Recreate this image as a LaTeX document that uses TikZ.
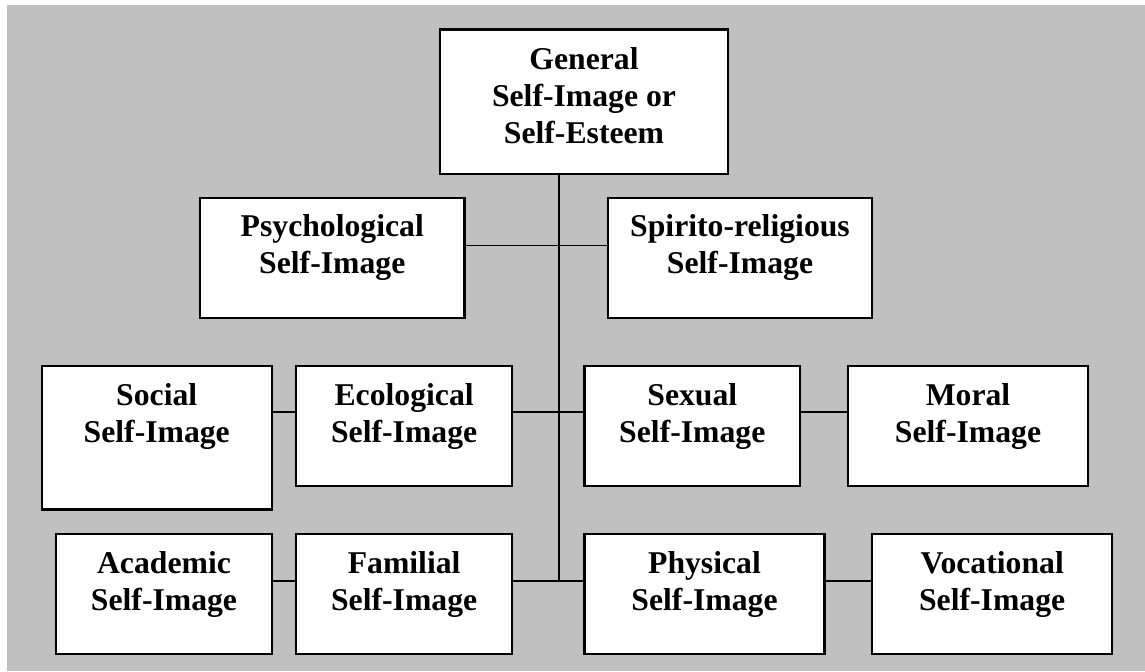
\documentclass[tikz,border=0pt]{standalone}
\usepackage{fontspec}
\setmainfont{Liberation Serif}
\definecolor{bggray}{HTML}{C0C0C0}
\newcommand\boxlines[1]{\begin{tabular}[b]{@{}c@{}}#1\end{tabular}}
\tikzset{
  box/.style={draw=black, line width=1.15pt, fill=white, inner sep=0pt,
    font=\bfseries\fontsize{15.85}{18.5}\selectfont, anchor=north west,
    text height=38pt, text depth=22pt},
  link/.style={draw=black, line width=0.85pt},
}
\begin{document}
\begin{tikzpicture}[x=0.5pt, y=-0.5pt]
\useasboundingbox (0,0) rectangle (1145,672);
\fill[white] (0,0) rectangle (1145,672);
\fill[bggray] (6.7,5) rectangle (1145,671.5);

\node[box, minimum width=143.85pt, text height=57.2pt, text depth=15pt] (gen) at (439,28.3)
  {\boxlines{General\\Self-Image or\\Self-Esteem}};
\node[box, minimum width=132.15pt] (psy) at (199,196.7) {\boxlines{Psychological\\Self-Image}};
\node[box, minimum width=132.15pt] (spi) at (606.7,196.7) {\boxlines{Spirito-religious\\Self-Image}};

\node[box, minimum width=115.1pt, text depth=33.65pt] (soc) at (40.5,365) {\boxlines{Social\\Self-Image}};
\node[box, minimum width=108pt] (eco) at (295,365) {\boxlines{Ecological\\Self-Image}};
\node[box, minimum width=107.85pt] (sex) at (583.3,365) {\boxlines{Sexual\\Self-Image}};
\node[box, minimum width=120.15pt] (mor) at (846.7,365) {\boxlines{Moral\\Self-Image}};

\node[box, minimum width=107.85pt, text height=38.15pt] (aca) at (55,532.7) {\boxlines{Academic\\Self-Image}};
\node[box, minimum width=108pt, text height=38.15pt] (fam) at (295,532.7) {\boxlines{Familial\\Self-Image}};
\node[box, minimum width=120.05pt, text height=38.15pt] (phy) at (583.3,532.7) {\boxlines{Physical\\Self-Image}};
\node[box, minimum width=120pt, text height=38.15pt] (voc) at (871,532.7) {\boxlines{Vocational\\Self-Image}};

\coordinate (j2) at (559,245.5);
\coordinate (j3) at (559,412.3);
\coordinate (j4) at (559,581);

\draw[link] (gen.south -| j4) -- (j4);
\draw[link] (psy.east |- j2) -- (spi.west |- j2);
\draw[link] (soc.east |- j3) -- (eco.west |- j3);
\draw[link] (eco.east |- j3) -- (sex.west |- j3);
\draw[link] (sex.east |- j3) -- (mor.west |- j3);
\draw[link] (aca.east |- j4) -- (fam.west |- j4);
\draw[link] (fam.east |- j4) -- (phy.west |- j4);
\draw[link] (phy.east |- j4) -- (voc.west |- j4);
\end{tikzpicture}
\end{document}
